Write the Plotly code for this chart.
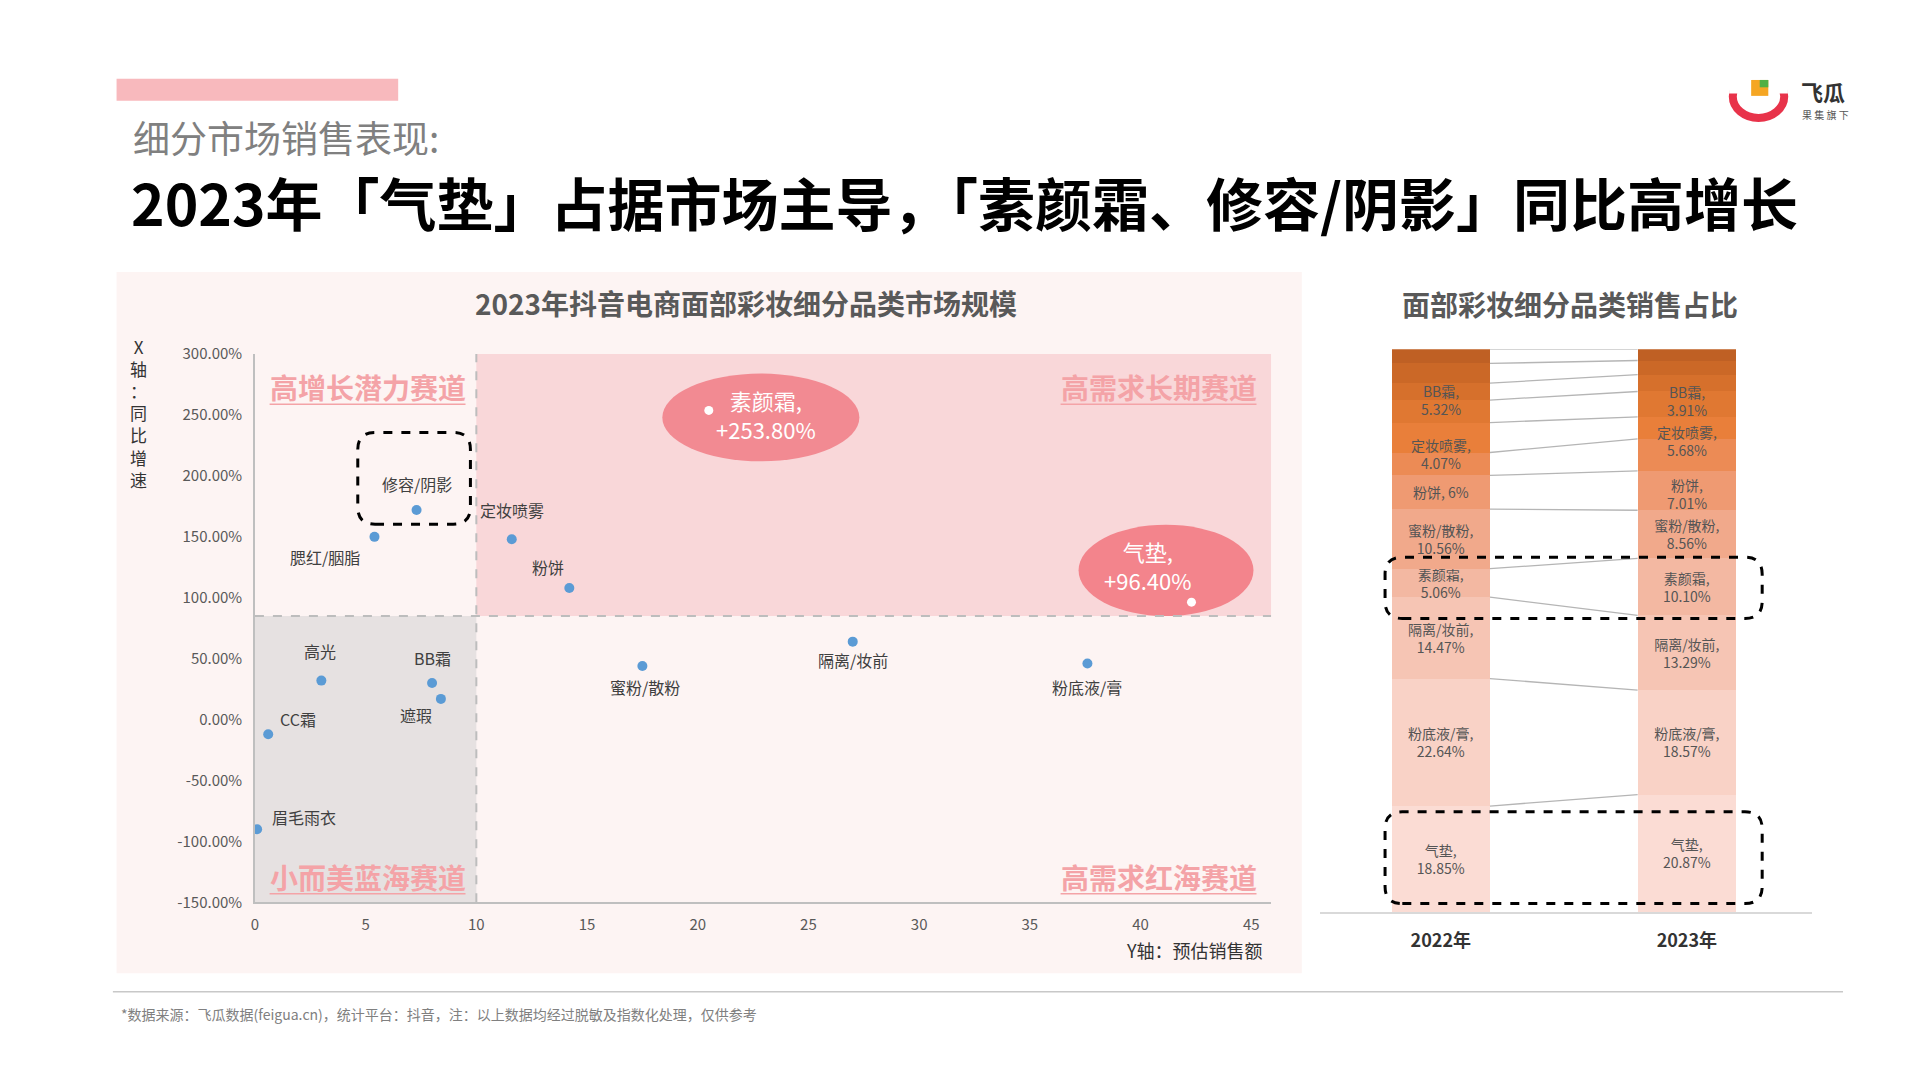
import plotly.graph_objects as go

# ---- data ----
names = ["眉毛雨衣", "CC霜", "高光", "腮红/胭脂", "修容/阴影", "BB霜", "遮瑕",
         "定妆喷雾", "粉饼", "蜜粉/散粉", "隔离/妆前", "粉底液/膏"]
sales = [0.1, 0.6, 3.0, 5.4, 7.3, 8.0, 8.4, 11.6, 14.2, 17.5, 27.0, 37.6]
growth = [-90, -12, 32, 150, 172, 30, 17, 148, 108, 44, 64, 46]
# 标注偏移 (参考图 px)
lbl_dx = [38, 24, -1, -40, 0, 0, -20, 0, -17, 2, 0, 0]
lbl_dy = [-10, -12, -24, 16, -21, -20, 13, -24, -17, 17, 15, 19]

hi_names = ["素颜霜", "气垫"]
hi_sales = [20.5, 42.3]
hi_growth = [253.8, 96.4]

years = ["2022年", "2023年"]
seg_names = ["气垫", "粉底液/膏", "隔离/妆前", "素颜霜", "蜜粉/散粉", "粉饼", "定妆喷雾", "BB霜",
             "其他1", "其他2", "其他3", "其他4"]
share_2022 = [18.85, 22.64, 14.47, 5.06, 10.56, 6.00, 4.07, 5.32, 4.0, 3.0, 3.5, 2.53]
share_2023 = [20.87, 18.57, 13.29, 10.10, 8.56, 7.01, 5.68, 3.91, 4.5, 3.0, 2.5, 2.01]
seg_colors = ["#fbdcd4", "#f9d2c6", "#f6c5b4", "#f3b8a2", "#f1a98b", "#ef9a72", "#ec8b55",
              "#e97f3a", "#e07832", "#d6702c", "#cb6827", "#bf6024"]
# 上方小段标签的上移量 (参考图 px): 2022, 2023
lift = {"BB霜": (30, 22), "定妆喷雾": (8, 11), "粉饼": (0, -3)}

FW, FH = 1904, 1064
S = 1 / 0.81
def px(x): return ((x - 9.6) / 0.815) / FW
def py(y): return 1 - ((y - 16) / 0.801) / FH

fig = go.Figure()

fig.add_trace(go.Scatter(x=sales, y=growth, mode="markers",
                         marker=dict(size=10, color="#5b9bd5"), xaxis="x", yaxis="y",
                         showlegend=False))
fig.add_trace(go.Scatter(x=hi_sales, y=hi_growth, mode="markers",
                         marker=dict(size=9, color="white"), xaxis="x", yaxis="y",
                         showlegend=False))

ann = []
base = [0.0, 0.0]
for i, n in enumerate(seg_names):
    vals = [share_2022[i], share_2023[i]]
    if n.startswith("其他"):
        txt = ["", ""]
    elif n == "粉饼":
        txt = ["粉饼, 6%", "粉饼,<br>7.01%"]
    else:
        txt = [f"{n},<br>{v:.2f}%" for v in vals]
    bar_txt = txt
    if n in lift:
        bar_txt = ["", ""]
        for j in range(2):
            ann.append(dict(x=j, y=base[j] + vals[j] / 2, xref="x2", yref="y2", text=txt[j],
                            showarrow=False, yshift=lift[n][j] * S,
                            font=dict(size=14, color="#555555")))
    fig.add_trace(go.Bar(x=[0, 1], y=vals, width=0.4, marker=dict(color=seg_colors[i], line=dict(width=0)),
                         text=bar_txt, textposition="inside", insidetextanchor="middle",
                         textangle=0, constraintext="none",
                         textfont=dict(size=14, color="#555555"),
                         xaxis="x2", yaxis="y2", showlegend=False, hoverinfo="skip"))
    base = [base[0] + vals[0], base[1] + vals[1]]

c1 = c2 = 0
for a, b in zip(share_2022, share_2023):
    c1 += a
    c2 += b
    fig.add_trace(go.Scatter(x=[0.2, 0.8], y=[c1, c2], mode="lines",
                             line=dict(color="#b5b5b5", width=1.3), xaxis="x2", yaxis="y2",
                             showlegend=False, hoverinfo="skip"))

shapes = []

def pline(x0, x1, y0, y1, color, w, dash="solid"):
    return dict(type="line", xref="paper", yref="paper", x0=px(x0), x1=px(x1), y0=py(y0), y1=py(y1),
                line=dict(color=color, width=w, dash=dash))

shapes.append(dict(type="rect", xref="paper", yref="paper", x0=px(95), x1=px(1063), y0=py(795), y1=py(222),
                   fillcolor="#fdf4f3", line_width=0, layer="below"))
shapes.append(dict(type="rect", xref="paper", yref="paper", x0=px(95), x1=px(325), y0=py(82), y1=py(64),
                   fillcolor="#f8b9bd", line_width=0))
shapes.append(pline(92, 1505, 810, 810, "#c8c8c8", 1.5))
shapes.append(dict(type="rect", xref="x", yref="y", x0=10, x1=45.9, y0=85, y1=300,
                   fillcolor="#f9d7d9", line_width=0, layer="below"))
shapes.append(dict(type="rect", xref="x", yref="y", x0=0, x1=10, y0=-150, y1=85,
                   fillcolor="#e6e1e1", line_width=0, layer="below"))
shapes.append(dict(type="line", xref="x", yref="y", x0=10, x1=10, y0=-150, y1=300,
                   line=dict(color="#bdbdbd", width=2, dash="dash")))
shapes.append(dict(type="line", xref="x", yref="y", x0=0, x1=45.9, y0=85, y1=85,
                   line=dict(color="#bdbdbd", width=2, dash="dash")))
shapes.append(dict(type="circle", xref="x", yref="y", x0=18.4, x1=27.3, y0=212, y1=284,
                   fillcolor="#f28a92", line_width=0, layer="below"))
shapes.append(dict(type="circle", xref="x", yref="y", x0=37.2, x1=45.1, y0=85, y1=160,
                   fillcolor="#f3848c", line_width=0, layer="below"))

def rrect(x0, y0, x1, y1, r=14):
    rx, ry = r * S / FW, r * S / FH
    a, b, c, d = px(x0), py(y1), px(x1), py(y0)
    return (f"M{a+rx},{b} L{c-rx},{b} Q{c},{b} {c},{b+ry} L{c},{d-ry} Q{c},{d} {c-rx},{d} "
            f"L{a+rx},{d} Q{a},{d} {a},{d-ry} L{a},{b+ry} Q{a},{b} {a+rx},{b} Z")

for box in [(292, 353, 384, 428), (1131, 455, 1439, 505), (1131, 663, 1439, 738)]:
    shapes.append(dict(type="path", xref="paper", yref="paper", path=rrect(*box),
                       line=dict(color="black", width=3, dash="dash")))

def text(x, y, t, size, color, xa="center"):
    return dict(xref="paper", yref="paper", x=px(x), y=py(y), xanchor=xa, yanchor="middle",
                text=t, showarrow=False, font=dict(size=size, color=color))

for t, cx, cy in [("高增长潜力赛道", 300, 316), ("高需求长期赛道", 946, 316),
                  ("小而美蓝海赛道", 300, 716), ("高需求红海赛道", 946, 716)]:
    ann.append(text(cx, cy, f"<b>{t}</b>", 28, "#f4a3a7"))
    shapes.append(pline(cx - 80, cx + 80, cy + 14, cy + 14, "#f4a3a7", 1.5))

for n, xv, yv, dx, dy in zip(names, sales, growth, lbl_dx, lbl_dy):
    ann.append(dict(x=xv, y=yv, xref="x", yref="y", text=n, showarrow=False,
                    xanchor="center", yanchor="middle",
                    xshift=dx * S, yshift=-dy * S, font=dict(size=16, color="#404040")))
for n, yv, cx, cy in zip(hi_names, hi_growth, [625, 937], [338, 462]):
    ann.append(text(cx, cy, f"{n},<br>+{yv:.2f}%", 22, "white"))

ann += [
    text(107, 112, "细分市场销售表现:", 37, "#808080", "left"),
    text(105, 164, "<b>2023年「气垫」占据市场主导，「素颜霜、修容/阴影」同比高增长</b>", 57, "black", "left"),
    text(609, 247, "<b>2023年抖音电商面部彩妆细分品类市场规模</b>", 28, "#595959"),
    text(1282, 248, "<b>面部彩妆细分品类销售占比</b>", 28, "#595959"),
    text(113, 337, "X<br>轴<br>：<br>同<br>比<br>增<br>速", 17, "#333333"),
    text(975, 776, "Y轴：预估销售额", 18, "#333333"),
    text(97, 828, "*数据来源：飞瓜数据(feigua.cn)，统计平台：抖音，注：以上数据均经过脱敏及指数化处理，仅供参考",
         14, "#808080", "left"),
    text(1469, 74, "<b>飞瓜</b>", 22, "#333333", "left"),
    text(1470, 93, "果 集 旗 下", 10, "#555555", "left"),
]
# logo
shapes.append(dict(type="circle", xref="paper", yref="paper", x0=px(1415), x1=px(1457), y0=py(96), y1=py(61),
                   line=dict(color="#e8334a", width=8)))
shapes.append(dict(type="rect", xref="paper", yref="paper", x0=px(1412), x1=px(1460), y0=py(76), y1=py(56),
                   fillcolor="white", line_width=0))
shapes.append(dict(type="rect", xref="paper", yref="paper", x0=px(1430), x1=px(1444), y0=py(78), y1=py(65),
                   fillcolor="#f5a623", line_width=0))
shapes.append(dict(type="rect", xref="paper", yref="paper", x0=px(1437), x1=px(1444), y0=py(71), y1=py(65),
                   fillcolor="#52b043", line_width=0))

fig.update_layout(
    width=FW, height=FH, margin=dict(l=0, r=0, t=0, b=0),
    paper_bgcolor="white", plot_bgcolor="rgba(0,0,0,0)",
    font=dict(family="Noto Sans CJK SC"), barmode="stack",
    shapes=shapes, annotations=ann,
    xaxis=dict(domain=[px(208), px(1038)], range=[0, 45.9], tickvals=list(range(0, 50, 5)),
               showgrid=False, zeroline=False, showline=True, linecolor="#bfbfbf", linewidth=1.5,
               tickfont=dict(size=15, color="#595959"), ticks="", ticklabelstandoff=8),
    yaxis=dict(domain=[py(737), py(289)], range=[-150, 300], tickvals=list(range(-150, 301, 50)),
               ticktext=[f"{v:.2f}%" for v in range(-150, 301, 50)],
               showgrid=False, zeroline=False, showline=True, linecolor="#bfbfbf", linewidth=1.5,
               tickfont=dict(size=15, color="#595959"), ticks="", ticklabelstandoff=8),
    xaxis2=dict(domain=[px(1078), px(1480)], range=[-0.49, 1.51], tickvals=[0, 1],
                ticktext=[f"<b>{y}</b>" for y in years],
                showgrid=False, zeroline=False, showline=True, linecolor="#d9d9d9", linewidth=1.5,
                tickfont=dict(size=18, color="#333333"), anchor="y2", ticklabelstandoff=12),
    yaxis2=dict(domain=[py(745), py(285)], range=[0, 100], visible=False, anchor="x2"),
)

fig.write_html("out.html")
